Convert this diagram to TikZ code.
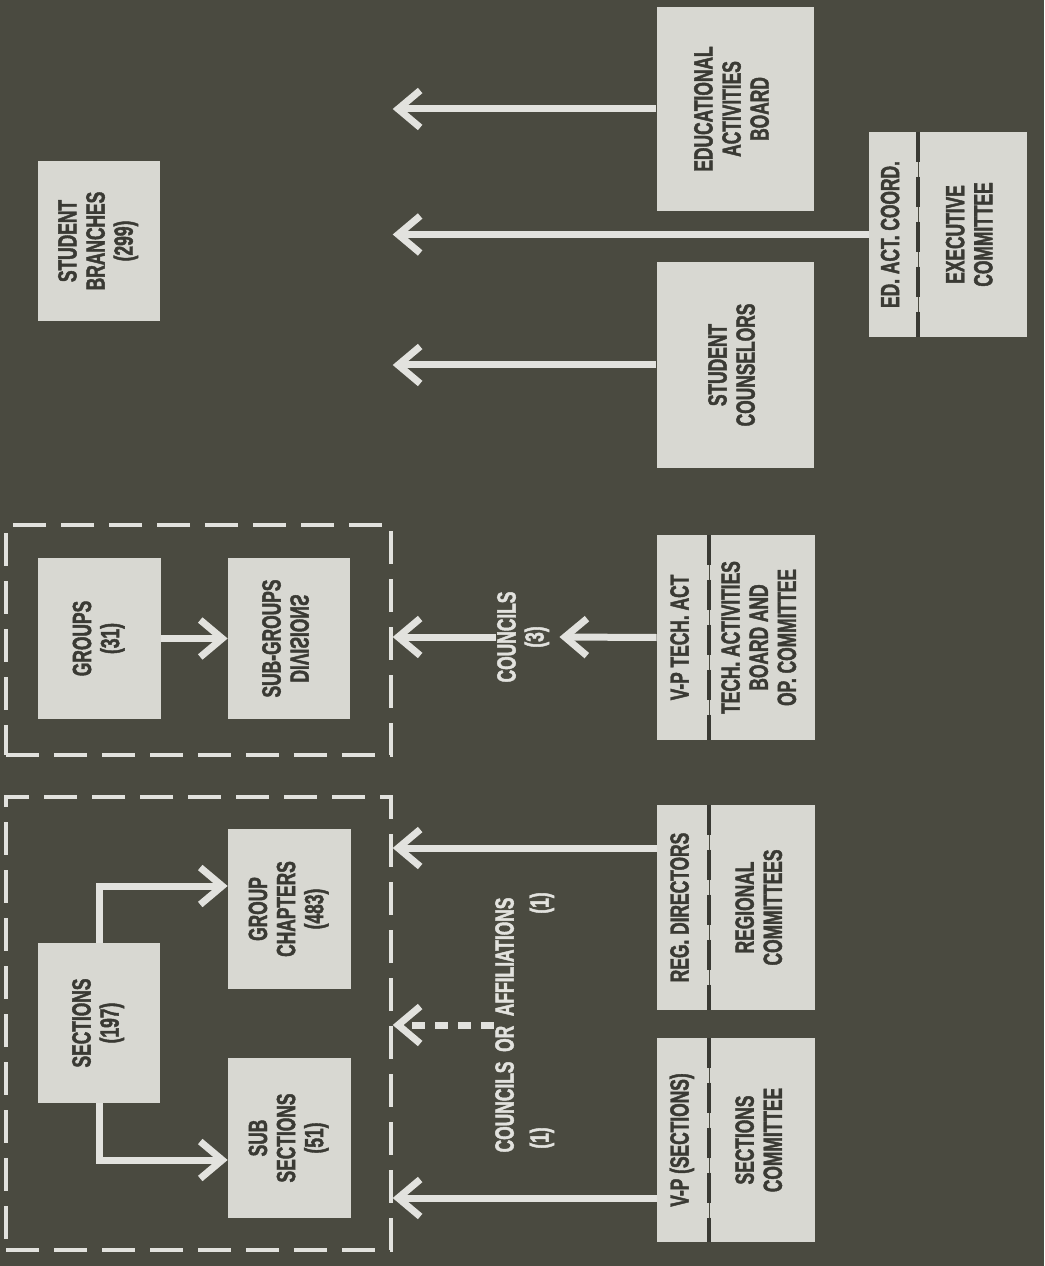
\documentclass[tikz,border=0pt]{standalone}
\usepackage{fontspec}
\setmainfont{Liberation Sans}[FakeStretch=0.66, BoldFont={Liberation Sans Bold}, BoldFeatures={FakeBold=1.6}]
\usetikzlibrary{arrows.meta}

\definecolor{board}{RGB}{74,74,64}
\definecolor{cardgray}{RGB}{216,216,210}
\definecolor{ink}{RGB}{58,58,52}
\definecolor{chalk}{RGB}{226,226,222}

\newcommand{\rotlbl}[1]{\rotatebox{90}{\begin{tabular}{@{}c@{}}#1\end{tabular}}}

\begin{document}
\begin{tikzpicture}
        [
        x=0.02cm, y=-0.02cm,
        office/.style={fill=cardgray, text=ink, inner sep=0pt, font=\fontsize{15}{16}\selectfont\bfseries},
        lbl/.style={text=chalk, inner sep=0pt, font=\fontsize{15}{16}\selectfont\bfseries},
        cluster/.style={draw=chalk, line width=0.07cm, dash pattern=on 0.66cm off 0.3cm, inner sep=0pt},
        divider/.style={draw=ink, line width=0.08cm, dash pattern=on 0.6cm off 0.3cm},
        feed/.style={draw=chalk, line width=0.14cm, -{Straight Barb[length=0.44cm, width=0.74cm]}}
        ]

        \fill[board] (0,0) rectangle (1044,1266);
        \useasboundingbox (0,0) rectangle (1044,1266);

        % dashed groupings
        \node[cluster, minimum width=7.7cm, minimum height=4.6cm] (grpfr) at (198.5,640) {};
        \node[cluster, minimum width=7.7cm, minimum height=9.06cm] (secfr) at (198.5,1023.5) {};

        % left side
        \node[office, minimum width=2.44cm, minimum height=3.2cm] (brch) at (99,241) {\rotlbl{STUDENT\\BRANCHES\\(299)}};
        \node[office, minimum width=2.46cm, minimum height=3.22cm] (grps) at (99.5,638.5) {\rotlbl{GROUPS\\(31)}};
        \node[office, minimum width=2.44cm, minimum height=3.22cm] (subg) at (289,638.5) {\rotlbl{SUB-GROUPS\\\rotatebox[origin=c]{180}{\reflectbox{DIVISIONS}}}};
        \node[office, minimum width=2.44cm, minimum height=3.2cm] (secs) at (99,1023) {\rotlbl{SECTIONS\\(197)}};
        \node[office, minimum width=2.46cm, minimum height=3.2cm] (chap) at (289.5,909) {\rotlbl{GROUP\\CHAPTERS\\(483)}};
        \node[office, minimum width=2.46cm, minimum height=3.2cm] (subs) at (289.5,1138) {\rotlbl{SUB\\SECTIONS\\(51)}};

        % right side
        \node[office, minimum width=3.14cm, minimum height=4.08cm] (edab) at (735,109) {\rotlbl{EDUCATIONAL\\ACTIVITIES\\BOARD}};
        \node[office, minimum width=3.14cm, minimum height=4.12cm] (stco) at (735,365) {\rotlbl{STUDENT\\COUNSELORS}};

        \node[office, minimum width=0.98cm, minimum height=4.1cm] (edc) at (893.5,234.5) {\rotlbl{ED.\ ACT.\ COORD.}};
        \node[office, minimum width=2.16cm, minimum height=4.1cm, anchor=west] (exc) at (edc.east) {\rotlbl{EXECUTIVE\\COMMITTEE}};
        \draw[divider] (edc.north east) -- (edc.south east);

        \node[office, minimum width=1.04cm, minimum height=4.1cm] (vptl) at (683,637.5) {\rotlbl{V-P TECH.\ ACT}};
        \node[office, minimum width=2.1cm, minimum height=4.1cm, anchor=west] (vptr) at (vptl.east) {\rotlbl{TECH.\ ACTIVITIES\\BOARD AND\\OP.\ COMMITTEE}};
        \draw[divider] (vptl.north east) -- (vptl.south east);

        \node[office, minimum width=1.04cm, minimum height=4.1cm] (regd) at (683,907.5) {\rotlbl{REG.\ DIRECTORS}};
        \node[office, minimum width=2.1cm, minimum height=4.1cm, anchor=west] (regc) at (regd.east) {\rotlbl{REGIONAL\\COMMITTEES}};
        \draw[divider] (regd.north east) -- (regd.south east);

        \node[office, minimum width=1.04cm, minimum height=4.08cm] (vpsd) at (683,1140) {\rotlbl{V-P (SECTIONS)}};
        \node[office, minimum width=2.1cm, minimum height=4.08cm, anchor=west] (vpsc) at (vpsd.east) {\rotlbl{SECTIONS\\COMMITTEE}};
        \draw[divider] (vpsd.north east) -- (vpsd.south east);

        % free labels
        \node[lbl] (cnl) at (524,637) {\rotlbl{COUNCILS\\(3)}};
        \node[lbl] (caf) at (508,1025) {\rotlbl{COUNCILS\ \ OR\ \ AFFILIATIONS}};
        \node[lbl] (cafa) at (543,903) {\rotlbl{(1)}};
        \node[lbl] (cafb) at (543,1138) {\rotlbl{(1)}};

        % connectors
        \draw[feed] (grps.east) -- (subg.west);
        \draw[feed] (secs.north) |- ([yshift=0.46cm]chap.west);
        \draw[feed] (secs.south) |- ([yshift=-0.44cm]subs.west);

        \draw[feed] (edab.west) -- (edab.west -| secfr.east);
        \draw[feed] (stco.west) -- (stco.west -| secfr.east);
        \draw[feed] (edc.west) -- (edc.west -| secfr.east);

        \draw[feed] (vptl.west) -- ([xshift=0.14cm]cnl.east);
        \draw[feed] (cnl.west) -- (cnl.west -| grpfr.east);

        \coordinate (regout) at ([yshift=1.19cm]regd.west);
        \coordinate (vpsout) at ([yshift=-1.16cm]vpsd.west);
        \draw[feed] (regout) -- (regout -| secfr.east);
        \draw[feed] (vpsout) -- (vpsout -| secfr.east);
        \draw[feed, dash pattern=on 0.26cm off 0.2cm] (caf.west) -- (caf.west -| secfr.east);

    \end{tikzpicture}
\end{document}
